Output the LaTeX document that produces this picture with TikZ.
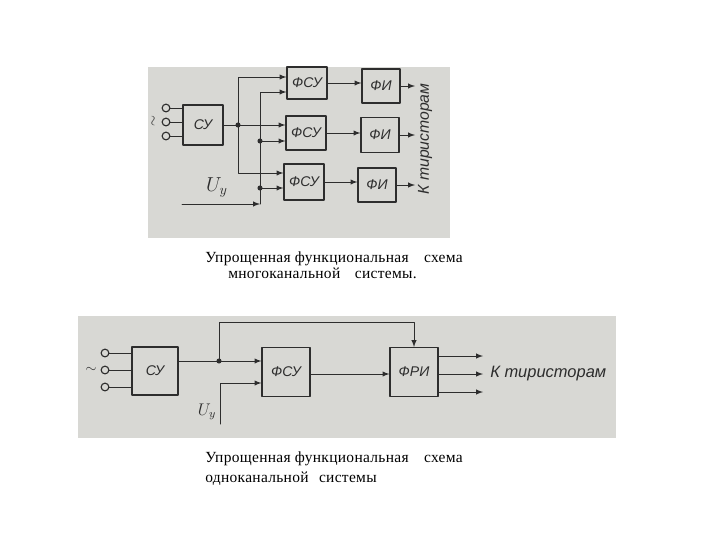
\documentclass[tikz,border=0pt]{standalone}
\usepackage{fontspec}
\setmainfont{Liberation Serif}
\setsansfont{Liberation Sans}
\newfontfamily\capfont[LetterSpace=2]{Liberation Serif}
\definecolor{scan}{RGB}{216,216,212}
\definecolor{ink}{RGB}{45,45,45}
\begin{document}
\begin{tikzpicture}[x=0.025cm,y=-0.025cm,line cap=round,line join=round,>=latex,
  blk/.style={draw=ink,line width=0.85pt,inner sep=0pt,text=ink,font=\sffamily\itshape\fontsize{10}{12}\selectfont},
  term/.style={circle,draw=ink,line width=0.8pt,minimum size=5.5pt,inner sep=0pt},
  wire/.style={draw=ink,line width=0.7pt},
  arr/.style={draw=ink,line width=0.7pt,-latex},
  lbl/.style={text=ink,inner sep=0pt,font=\sffamily\itshape\fontsize{12}{14}\selectfont},
  captxt/.style={inner sep=0pt,font=\capfont\fontsize{11}{13}\selectfont}]
  \useasboundingbox (0,0) rectangle (720,540);
  % upper picture: several channels
  \fill[scan] (148,67) rectangle (450,238);
  \node[term] (t1) at (166,108) {};
  \node[term] (t2) at (166,122) {};
  \node[term] (t3) at (166,136) {};
  \node[text=ink,rotate=90,inner sep=0pt] (ac1) at (154,121) {$\sim$};
  \node[blk,minimum width=1cm,minimum height=1cm] (su1) at (203,125) {СУ};
  \node[blk,minimum width=1cm,minimum height=0.8cm] (fsu1) at (307,83) {ФСУ};
  \node[blk,minimum width=1cm,minimum height=0.85cm] (fsu2) at (306,133) {ФСУ};
  \node[blk,minimum width=1cm,minimum height=0.9cm] (fsu3) at (304,182) {ФСУ};
  \node[blk,minimum width=0.95cm,minimum height=0.85cm] (fi1) at (381,86) {ФИ};
  \node[blk,minimum width=0.95cm,minimum height=0.88cm] (fi2) at (380,135) {ФИ};
  \node[blk,minimum width=0.95cm,minimum height=0.85cm] (fi3) at (377,185) {ФИ};
  \node[lbl,font=\itshape\fontsize{14}{16}\selectfont] (uy1) at (217,187) {$U_y$};
  \node[lbl,rotate=90,font=\sffamily\itshape\fontsize{11.2}{13}\selectfont] (kt1) at (425,139) {К тиристорам};
  \coordinate (j1) at (238,125);
  \coordinate (ua) at (182,204);
  \coordinate (ub) at (260,204);
  \coordinate (r1) at (0,77);
  \coordinate (r2) at (0,92);
  \coordinate (r3) at (0,141);
  \coordinate (r4) at (0,173);
  \coordinate (r5) at (0,188);
  \coordinate (o1) at (415,86);
  \coordinate (o2) at (415,135);
  \coordinate (o3) at (415,185);
  \foreach \t in {t1,t2,t3}
    \draw[wire] (\t) -- (\t -| su1.west);
  \draw[wire] (su1) -- (j1);
  \draw[arr] (j1) |- (fsu1.west |- r1);
  \draw[arr] (j1) -- (fsu2.west |- j1);
  \draw[arr] (j1) |- (fsu3.west |- r4);
  \draw[arr] (ua) -- (ub);
  \draw[arr] (ub) |- (fsu1.west |- r2);
  \draw[arr] (ub |- r3) -- (fsu2.west |- r3);
  \draw[arr] (ub |- r5) -- (fsu3.west |- r5);
  \fill[ink] (j1) circle (1.8pt) (ub |- r3) circle (1.8pt) (ub |- r5) circle (1.8pt);
  \draw[arr] (fsu1.east) -- (fsu1.east -| fi1.west);
  \draw[arr] (fsu2.east) -- (fsu2.east -| fi2.west);
  \draw[arr] (fsu3.east) -- (fsu3.east -| fi3.west);
  \draw[arr] (fi1) -- (o1);
  \draw[arr] (fi2) -- (o2);
  \draw[arr] (fi3) -- (o3);
  \node[captxt,anchor=base west] (cap1a) at (205,262) {Упрощенная функциональная};
  \node[captxt,anchor=base east] (cap1b) at (463,262) {схема};
  \node[captxt,anchor=base west] (cap1c) at (228,278) {многоканальной};
  \node[captxt,anchor=base east] (cap1d) at (417,278) {системы.};
  % lower picture: one channel
  \fill[scan] (78,316) rectangle (616,438);
  \node[term] (t4) at (105,353) {};
  \node[term] (t5) at (105,370) {};
  \node[term] (t6) at (105,387) {};
  \node[text=ink,inner sep=0pt] (ac2) at (91,370) {$\sim$};
  \node[blk,minimum width=1.15cm,minimum height=1.2cm] (su2) at (155,371) {СУ};
  \node[blk,minimum width=1.2cm,minimum height=1.22cm] (fsu4) at (286,372) {ФСУ};
  \node[blk,minimum width=1.2cm,minimum height=1.22cm] (fri) at (414,372) {ФРИ};
  \node[lbl,font=\itshape\fontsize{12}{14}\selectfont] (uy2) at (207,412) {$U_y$};
  \node[lbl,anchor=west,font=\sffamily\itshape\fontsize{11.7}{14}\selectfont] (kt2) at (490,374) {К тиристорам};
  \coordinate (j2) at (219,361);
  \coordinate (top2) at (414,322);
  \coordinate (u2) at (220,424);
  \coordinate (r6) at (0,383);
  \coordinate (r7) at (0,374);
  \coordinate (o4) at (483,356);
  \coordinate (o5) at (483,374);
  \coordinate (o6) at (483,392);
  \foreach \t in {t4,t5,t6}
    \draw[wire] (\t) -- (\t -| su2.west);
  \draw[wire] (su2.east |- j2) -- (j2);
  \draw[arr] (j2) -- (fsu4.west |- j2);
  \draw[arr] (j2) |- (top2) -- (fri.north);
  \fill[ink] (j2) circle (1.8pt);
  \draw[arr] (u2) |- (fsu4.west |- r6);
  \draw[arr] (fsu4.east |- r7) -- (fri.west |- r7);
  \foreach \o in {o4,o5,o6}
    \draw[arr] (fri.east |- \o) -- (\o);
  \node[captxt,anchor=base west] (cap2a) at (205,462) {Упрощенная функциональная};
  \node[captxt,anchor=base east] (cap2b) at (463,462) {схема};
  \node[captxt,anchor=base west] (cap2c) at (205,482) {одноканальной};
  \node[captxt,anchor=base east] (cap2d) at (377,482) {системы};
\end{tikzpicture}
\end{document}
